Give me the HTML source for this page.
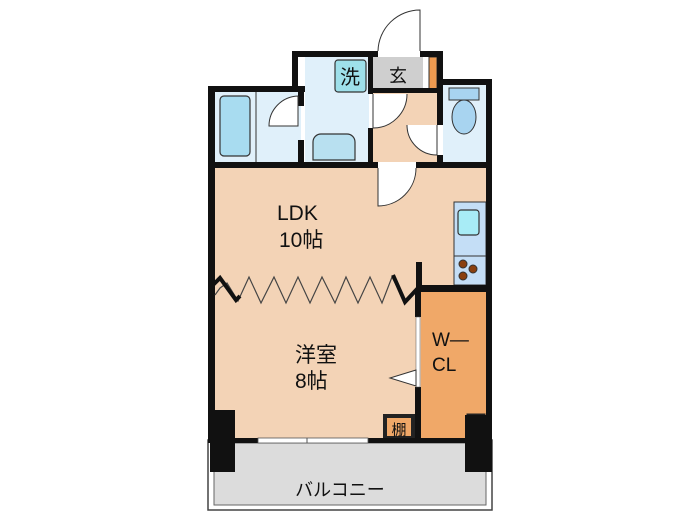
<!DOCTYPE html><html><head><style>body{margin:0;background:#fff}svg{display:block}text{font-family:"Liberation Sans","Noto Sans CJK JP",sans-serif;fill:#111}</style></head><body>
<svg width="700" height="525" viewBox="0 0 700 525" xmlns="http://www.w3.org/2000/svg">
<rect x="208" y="440" width="284" height="70" fill="#fff" stroke="#444" stroke-width="1.5"/>
<rect x="214" y="443" width="272" height="62" fill="#dcdcdc" stroke="#666" stroke-width="1"/>
<text x="340" y="496" font-size="18" text-anchor="middle">バルコニー</text>
<rect x="215" y="168" width="272" height="272" fill="#f3d3b6"/>
<rect x="215" y="92" width="86" height="70" fill="#e0f0fa"/>
<line x1="256" y1="92" x2="256" y2="162" stroke="#333" stroke-width="1"/>
<rect x="220" y="96" width="30" height="60" rx="4" fill="#a8dcf0" stroke="#333" stroke-width="1.2"/>
<rect x="305" y="57" width="64" height="105" fill="#e0f0fa"/>
<rect x="335" y="60" width="31" height="32" rx="3" fill="#9ee0ea" stroke="#333" stroke-width="1.2"/>
<text x="350" y="84" font-size="20" text-anchor="middle">洗</text>
<path d="M313 160 V142 a8 8 0 0 1 8 -8 h26 a8 8 0 0 1 8 8 V160 Z" fill="#b8e0f0" stroke="#333" stroke-width="1.2"/>
<rect x="373" y="57" width="50" height="33" fill="#cfcfcf"/>
<text x="398" y="82" font-size="18" text-anchor="middle">玄</text>
<rect x="373" y="90" width="64" height="72" fill="#f3d3b6"/>
<rect x="429" y="57" width="8" height="35" fill="#ee9a50" stroke="#333" stroke-width="1"/>
<rect x="443" y="85" width="44" height="77" fill="#e0f0fa"/>
<rect x="449" y="88" width="30" height="12" fill="#a8d4f0" stroke="#333" stroke-width="1"/>
<ellipse cx="464" cy="117" rx="12" ry="17" fill="#a8d4f0" stroke="#333" stroke-width="1"/>
<rect x="454" y="202" width="32" height="83" fill="#c4def6" stroke="#333" stroke-width="1"/>
<line x1="454" y1="256" x2="486" y2="256" stroke="#333"/>
<rect x="458" y="210" width="21" height="25" rx="3" fill="#a8ecf6" stroke="#333" stroke-width="1.2"/>
<circle cx="463" cy="264" r="4" fill="#8a4010" stroke="#333"/><circle cx="473" cy="269" r="4" fill="#8a4010" stroke="#333"/><circle cx="463" cy="276" r="4" fill="#8a4010" stroke="#333"/>
<rect x="421" y="292" width="65" height="146" fill="#f0a868"/>
<text x="432" y="346" font-size="19">W—</text>
<text x="432" y="371" font-size="19">CL</text>
<rect x="385" y="416" width="28" height="22" fill="#f0a868" stroke="#222" stroke-width="4"/>
<text x="399" y="435" font-size="15" text-anchor="middle">棚</text>
<rect x="468" y="415" width="16" height="20" fill="#f0a868" stroke="#222" stroke-width="3"/>
<g fill="#111">
<rect x="208" y="86" width="7" height="354"/>
<rect x="208" y="86" width="97" height="6"/>
<rect x="292" y="51" width="6" height="41"/>
<rect x="292" y="51" width="86" height="6"/>
<rect x="420" y="51" width="23" height="6"/>
<rect x="437" y="51" width="6" height="40"/>
<rect x="437" y="79" width="55" height="6"/>
<rect x="486" y="79" width="6" height="361"/>
<rect x="298" y="86" width="6" height="20"/>
<rect x="298" y="140" width="6" height="22"/>
<rect x="368" y="57" width="5" height="37"/>
<rect x="368" y="128" width="5" height="34"/>
<rect x="373" y="88" width="64" height="5"/>
<rect x="437" y="91" width="6" height="34"/>
<rect x="437" y="155" width="6" height="7"/>
<rect x="208" y="162" width="170" height="6"/>
<rect x="416" y="162" width="76" height="6"/>
<rect x="416" y="262" width="6" height="23"/>
<rect x="416" y="285" width="76" height="7"/>
<rect x="415" y="292" width="6" height="25"/>
<rect x="415" y="387" width="6" height="53"/>
<rect x="208" y="438" width="284" height="5"/>
<rect x="210" y="410" width="25" height="62"/>
<rect x="465" y="415" width="27" height="57"/>
</g>
<rect x="258" y="438" width="110" height="5" fill="#fff" stroke="#555" stroke-width="0.8"/>
<line x1="307" y1="438" x2="307" y2="443" stroke="#555"/>
<rect x="416" y="317" width="4" height="70" fill="#fff" stroke="#555" stroke-width="0.5"/>
<path d="M416 370 L390 378 L416 386 Z" fill="#fff" stroke="#333"/>
<g fill="#fff" stroke="#333" stroke-width="1">
<path d="M420 51 V10 A42 42 0 0 0 378 51"/>
<path d="M298 96 V126 H269 A30 30 0 0 1 298 96"/>
<path d="M373 94 V128 A34 34 0 0 0 407 94"/>
<path d="M437 125 V155 A30 30 0 0 1 407 125"/>
<path d="M378 168 V206 A38 38 0 0 0 416 168"/>
</g>
<polyline points="215,295 220,288 227,283 238,301 249,277 261,303 274,277 286,303 298,277 310,303 322,277 335,303 346,277 358,303 370,277 382,303 392,277 405,302 415,290" fill="none" stroke="#444" stroke-width="1.2"/>
<polyline points="210,288 220,278 236,300 240,296" fill="none" stroke="#111" stroke-width="4"/>
<polyline points="393,275 405,302 418,288" fill="none" stroke="#111" stroke-width="4"/>
<text x="277" y="220" font-size="21">LDK</text>
<text x="279" y="247" font-size="21">10帖</text>
<text x="295" y="362" font-size="21">洋室</text>
<text x="295" y="388" font-size="21">8帖</text>
</svg></body></html>
